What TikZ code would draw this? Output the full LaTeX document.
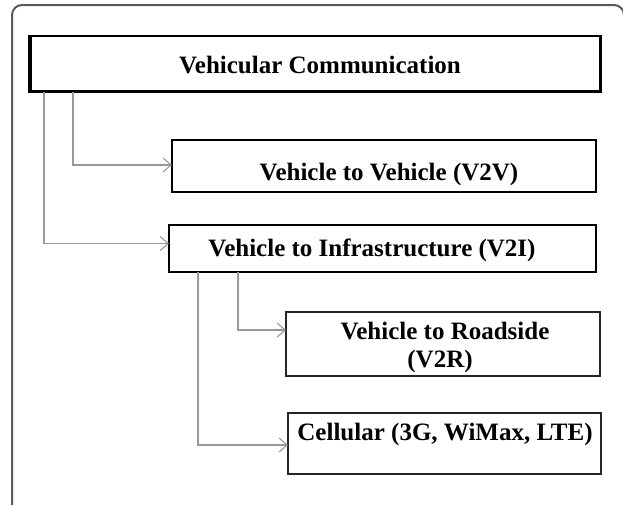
\documentclass[tikz,border=0pt]{standalone}
\usepackage{fontspec}
\setmainfont{Liberation Serif}
\usetikzlibrary{arrows.meta}
\tikzset{
  box/.style={draw=black, line width=2pt, rectangle, inner sep=0pt, outer sep=0pt},
  thinbox/.style={draw=black!85, line width=1.5pt, rectangle, inner sep=0pt, outer sep=0pt},
  lbl/.style={font=\bfseries\fontsize{25}{28}\selectfont, inner sep=0pt, anchor=base},
  conn/.style={draw=black!40, line width=1.1pt, -{Straight Barb[length=8pt,width=14pt,line width=1.1pt]}},
  frame/.style={draw=black!65, line width=2pt, rounded corners=10pt}
}
\begin{document}
\begin{tikzpicture}[x=1pt,y=-1pt]
\useasboundingbox (0,0) rectangle (623,506);
% outer frame
\draw[frame] (12,505) -- (12,5) -- (624,5) -- (624,506);
% boxes
\node[box, minimum width=572pt, minimum height=56pt] (main) at (315,64) {};
\draw[line width=4pt] ([xshift=1pt]main.north west) -- ([xshift=1pt]main.south west);
\draw[line width=3pt] ([xshift=-0.5pt,yshift=0.5pt]main.south west) -- ([xshift=-0.5pt,yshift=0.5pt]main.south east) -- ([xshift=-0.5pt]main.north east);
\node[box, minimum width=424pt, minimum height=52pt] (v2v) at (384,166) {};
\node[box, minimum width=427pt, minimum height=47pt] (v2i) at (382.5,248.5) {};
\node[thinbox, minimum width=314pt, minimum height=64pt] (v2r) at (443,344) {};
\node[thinbox, minimum width=313pt, minimum height=61pt] (cell) at (444.5,443.5) {};
% labels
\node[lbl] (t1) at (320,73) {Vehicular Communication};
\node[lbl] (t2) at (389,180) {Vehicle to Vehicle (V2V)};
\node[lbl] (t3) at (372,256) {Vehicle to Infrastructure (V2I)};
\node[lbl] (t4) at (445,339) {Vehicle to Roadside};
\node[lbl] (t5) at (440,367) {(V2R)};
\node[lbl] (t6) at (445,440) {Cellular (3G, WiMax, LTE)};
% connectors
\draw[conn] ([xshift=44pt]main.south west) |- ([yshift=1pt]v2v.west);
\draw[conn] ([xshift=15pt]main.south west) |- ([yshift=5pt]v2i.west);
\draw[conn] ([xshift=69pt]v2i.south west) |- ([yshift=14pt]v2r.west);
\draw[conn] ([xshift=29pt]v2i.south west) |- ([yshift=-1.5pt]cell.west);
\end{tikzpicture}
\end{document}
